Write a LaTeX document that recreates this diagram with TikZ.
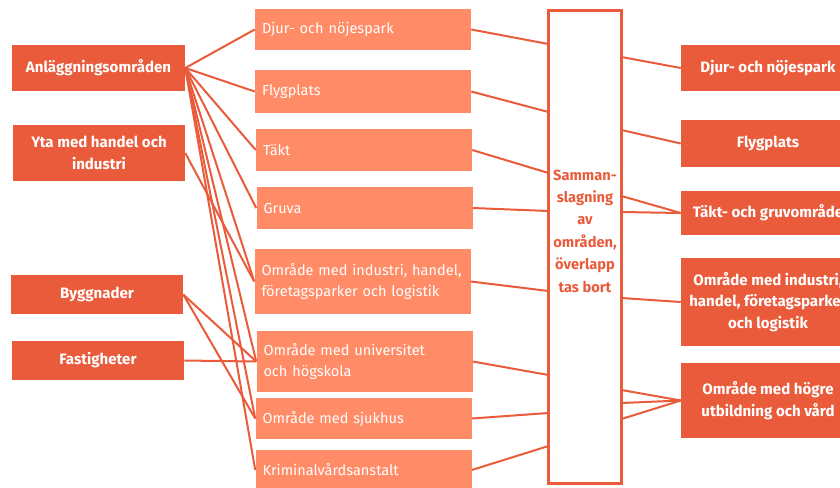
\documentclass[tikz,border=0pt]{standalone}
\usepackage{fontspec}
\setmainfont{Fira Sans}
\usetikzlibrary{positioning}
\definecolor{darkorg}{HTML}{E95B3B}
\definecolor{lightorg}{HTML}{FF8B67}

\begin{document}
\begin{tikzpicture}[x=.75pt,y=-.75pt,
        dark/.style={fill=darkorg, text=white, inner sep=0pt, align=center,
            font=\bfseries\fontsize{11.3}{16.2}\selectfont},
        light/.style={fill=lightorg, text=white, inner ysep=0pt, inner xsep=5.25pt,
            text width=151.5pt, align=left, font=\fontsize{10.9}{15.75}\selectfont},
        link/.style={draw=darkorg, line width=1.5pt}]
                \useasboundingbox (0,0) rectangle (840,487);
                \clip (0,0) rectangle (840,487);
                % left column
                \node[dark, minimum width=173*.75pt, minimum height=46*.75pt] (anl) at (98.5,68) {Anläggningsområden};
                \node[dark, minimum width=172*.75pt, minimum height=56*.75pt] (yta) at (99,153) {Yta med handel och\\industri};
                \node[dark, minimum width=172*.75pt, minimum height=39*.75pt] (bygg) at (97,294.5) {Byggnader};
                \node[dark, minimum width=172*.75pt, minimum height=39*.75pt] (fast) at (98,360.5) {Fastigheter};
                % middle column
                \node[light, minimum height=41*.75pt] (djur) at (363,29.5) {Djur- och nöjespark};
                \node[light, minimum height=43*.75pt] (flyg) at (363,91.5) {Flygplats};
                \node[light, minimum height=42*.75pt] (takt) at (364,150) {Täkt};
                \node[light, minimum height=42*.75pt] (gruva) at (364.5,208) {Gruva};
                \node[light, minimum height=65*.75pt] (ind) at (362.5,281.5) {Område med industri, handel, företagsparker och logistik};
                \node[light, minimum height=61*.75pt] (univ) at (364.5,361.5) {Område med universitet\\och högskola};
                \node[light, minimum height=41*.75pt] (sjuk) at (363.5,418.5) {Område med sjukhus};
                \node[light, minimum height=40*.75pt] (krim) at (363.5,470) {Kriminalvårdsanstalt};
                % merge box
                \node[draw=darkorg, line width=2.25pt, inner sep=0pt, minimum width=73*.75pt, minimum height=473*.75pt] (merge) at (585,247) {};
                \node[text=darkorg, align=center, font=\bfseries\fontsize{11}{16.8}\selectfont] (mtxt) at (585,231) {Samman-\\slagning\\av\\områden,\\överlapp\\tas bort};
                % right column
                \node[dark, minimum width=174*.75pt, minimum height=46*.75pt] (rdjur) at (768,68) {Djur- och nöjespark};
                \node[dark, minimum width=174*.75pt, minimum height=47*.75pt] (rflyg) at (768,143.5) {Flygplats};
                \node[dark, minimum width=174*.75pt, minimum height=44*.75pt] (rtakt) at (768,213) {Täkt- och gruvområde};
                \node[dark, minimum width=174*.75pt, minimum height=88*.75pt] (rind) at (768,302) {Område med industri,\\handel, företagsparker\\och logistik};
                \node[dark, minimum width=174*.75pt, minimum height=75*.75pt] (rvard) at (768,400.5) {Område med högre\\utbildning och vård};
                % connectors
                \foreach \n in {djur,flyg,takt,gruva,ind,univ,sjuk,krim}
                    \draw[link] (anl.east) -- (\n.west);
                \draw[link] (yta.east) -- (ind.west);
                \draw[link] (bygg.east) -- (univ.west);
                \draw[link] (bygg.east) -- (sjuk.west);
                \draw[link] (fast.east) -- (univ.west);
                \foreach \n/\y in {djur/44,flyg/112,takt/173,gruva/211,ind/291,univ/375,sjuk/413,krim/446} {
                    \coordinate (in-\n) at (548.5,\y);
                    \draw[link] (\n.east) -- (in-\n);
                }
                \foreach \n/\y in {rdjur/57,rflyg/130,rtakt/196,rtakt/212,rind/298,rvard/390,rvard/403,rvard/419} {
                    \coordinate (out-\n) at (621.5,\y);
                    \draw[link] (out-\n) -- (\n.west);
                }
            \end{tikzpicture}
\end{document}
